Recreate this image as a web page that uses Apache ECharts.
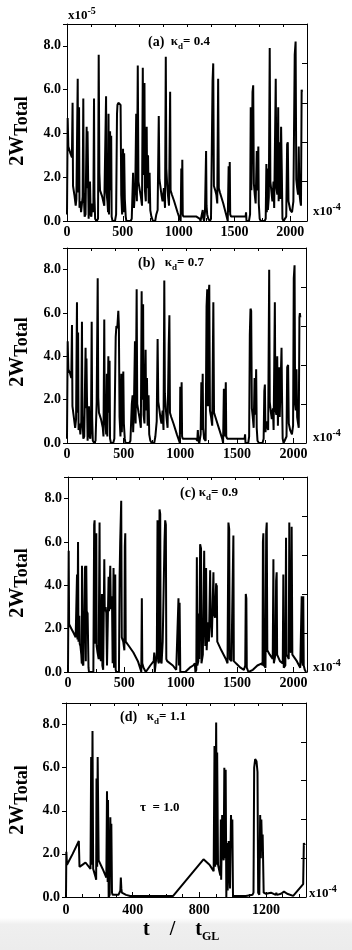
<!DOCTYPE html>
<html>
<head>
<meta charset="utf-8">
<title>2W_Total vs t/t_GL</title>
<script src="https://cdn.jsdelivr.net/npm/echarts@6/dist/echarts.min.js"></script>
<style>
  html, body { margin: 0; padding: 0; background: #fff; }
  #chart { width: 352px; height: 950px; }
</style>
</head>
<body>
<div id="chart"></div>
<script>
// values: [t / t_GL, 2W_Total in units of 1e-5]
const pulseA = [
  [0,0.3],[6,4.7],[12,3.4],[30,3.1],[44,2.9],[50,5.4],[54,1.6],[66,1.2],[78,0.7],[84,1.0],
  [96,6.5],[100,1.3],[108,5.2],[112,0.6],[120,0.9],[126,0.4],[140,1.1],[146,5.6],[150,1.3],[158,0.2],
  [166,0.3],[176,4.3],[180,1.5],[184,4.1],[188,2.5],[194,0.1],[200,0.9],[206,1.8],[212,0.3],[218,0.2],
  [226,0.8],[236,0.4],[242,5.6],[246,1.1],[252,0.1],[266,0.0],[278,0.1],[284,7.6],[290,2.2],[296,1.4],
  [316,1.1],[334,0.7],[350,5.7],[354,1.3],[362,0.9],[368,0.4],[372,4.9],[376,0.3],[386,4.1],[390,1.4],
  [396,3.9],[400,0.2],[408,0.0],[430,0.0],[440,0.3],[448,4.9],[452,5.3],[460,5.4],[470,5.4],[480,5.3],
  [486,1.2],[494,0.3],[502,3.3],[506,0.4],[512,3.1],[518,1.0],[526,0.2],[532,0.0],[570,0.0],[580,0.1],
  [592,2.2],[596,1.3],[600,0.6],[612,1.6],[620,4.9],[626,0.9],[634,7.1],[640,1.8],[652,1.4],[662,1.1],
  [672,0.7],[679,7.0],[684,2.1],[694,6.3],[698,1.4],[706,0.9],[714,4.3],[718,1.5],[726,3.0],[732,0.8],
  [740,2.2],[746,0.5],[756,0.2],[770,0.0],[790,0.0],[800,0.3],[812,0.5],[822,4.8],[828,1.9],[836,1.6],
  [846,1.2],[856,0.9],[868,1.5],[878,0.6],[885,7.5],[890,2.4],[898,1.6],[906,1.1],[914,0.7],[924,5.9],
  [928,1.4],[940,1.2],[960,0.9],[990,0.4],[1010,0.1],[1018,0.0],[1024,2.4],[1028,0.5],[1033,2.8],[1037,0.3],
  [1042,0.2],[1080,0.2],[1120,0.2],[1160,0.2],[1190,0.1],[1196,0.0],[1210,0.0],[1216,0.5],[1222,0.1],[1228,0.0],
  [1236,0.4],[1246,3.2],[1250,0.7],[1256,0.3],[1266,0.1],[1280,0.0],[1290,0.1],[1304,6.4],[1310,7.2],[1316,1.6],
  [1328,1.4],[1338,1.2],[1346,0.8],[1354,6.5],[1360,1.5],[1370,1.3],[1400,0.8],[1430,0.2],[1440,0.0],[1448,2.5],
  [1452,0.4],[1458,2.7],[1462,0.3],[1470,0.2],[1520,0.2],[1560,0.2],[1600,0.2],[1604,0.4],[1608,0.0],[1630,0.0],
  [1640,0.3],[1646,5.2],[1652,1.4],[1662,5.9],[1668,6.2],[1674,1.7],[1682,1.2],[1690,0.8],[1700,3.2],[1706,1.4],
  [1714,3.4],[1718,0.8],[1726,0.1],[1736,0.0],[1770,0.0],[1780,0.1],[1786,2.6],[1790,0.4],[1794,2.4],[1800,0.5],
  [1808,1.1],[1816,7.9],[1822,1.8],[1830,1.4],[1840,0.9],[1850,1.8],[1856,0.6],[1870,6.5],[1876,1.5],[1884,1.2],
  [1892,5.2],[1896,0.9],[1904,3.6],[1910,1.0],[1918,4.3],[1924,2.4],[1930,0.1],[1940,0.0],[1956,0.0],[1964,0.2],
  [1972,3.5],[1978,3.6],[1984,0.9],[2000,0.5],[2016,0.4],[2028,0.9],[2040,7.6],[2048,8.2],[2054,1.9],[2062,1.5],
  [2070,1.2],[2076,3.4],[2082,1.3],[2090,0.9],[2096,0.7],[2102,6.0],[2106,5.9]
];

const pulseB = [
  [0,0.2],[6,4.7],[12,3.4],[28,3.2],[38,3.0],[44,5.45],[48,1.7],[60,1.2],[72,0.7],[80,1.1],
  [88,6.5],[92,1.4],[98,5.1],[102,0.6],[110,0.9],[118,0.4],[126,1.0],[132,5.6],[136,1.3],[144,0.2],
  [152,0.3],[164,4.4],[168,1.6],[172,3.9],[176,2.2],[182,0.1],[188,0.9],[194,1.7],[200,0.3],[206,0.2],
  [212,0.8],[218,5.6],[222,1.2],[228,0.1],[240,0.0],[252,0.1],[262,1.9],[271,7.6],[276,2.1],[282,1.4],
  [300,1.1],[316,0.7],[322,0.3],[329,5.7],[333,1.3],[340,0.9],[346,0.4],[352,3.2],[356,0.3],[365,4.0],
  [370,1.4],[376,3.8],[380,0.2],[388,0.0],[408,0.0],[418,0.2],[430,4.9],[436,5.4],[444,5.3],[453,6.1],
  [458,5.4],[464,1.2],[472,0.3],[480,3.2],[484,0.5],[497,3.3],[502,0.9],[510,0.2],[516,0.0],[550,0.0],
  [560,0.1],[572,1.8],[579,2.2],[584,0.5],[590,1.4],[600,4.7],[606,0.9],[615,7.1],[620,1.8],[632,1.4],
  [642,1.1],[652,0.7],[659,7.0],[664,2.0],[672,6.4],[676,1.3],[684,0.9],[694,4.3],[698,1.5],[706,3.0],
  [712,0.8],[720,2.2],[726,0.4],[736,0.1],[748,0.0],[770,0.0],[780,0.3],[792,1.0],[800,4.8],[806,1.9],
  [814,1.6],[824,1.2],[834,0.9],[844,1.5],[852,0.6],[859,7.5],[864,2.3],[872,1.6],[880,1.1],[888,0.7],
  [898,4.5],[904,5.9],[909,1.4],[920,1.2],[940,0.9],[970,0.4],[990,0.1],[996,0.0],[1000,2.6],[1004,0.4],
  [1012,2.8],[1016,0.3],[1022,0.2],[1060,0.2],[1100,0.2],[1140,0.2],[1150,0.1],[1155,0.6],[1160,0.1],[1168,0.0],
  [1180,0.4],[1186,2.8],[1190,0.6],[1198,3.2],[1202,0.7],[1210,0.2],[1224,0.1],[1232,6.3],[1238,7.1],[1244,1.7],
  [1250,6.8],[1256,7.3],[1262,1.5],[1272,1.2],[1282,0.8],[1292,6.5],[1298,1.4],[1310,1.2],[1340,0.7],[1370,0.2],
  [1378,0.0],[1385,2.5],[1390,0.3],[1402,2.8],[1406,0.3],[1414,0.2],[1460,0.2],[1500,0.2],[1540,0.2],[1568,0.2],
  [1572,0.4],[1576,0.0],[1600,0.0],[1608,0.3],[1614,5.0],[1620,6.2],[1626,6.1],[1632,1.6],[1640,1.2],[1648,0.7],
  [1656,3.0],[1662,1.3],[1670,3.4],[1675,0.7],[1682,0.1],[1694,0.0],[1726,0.0],[1736,0.2],[1742,2.4],[1747,2.7],
  [1752,0.5],[1760,1.0],[1776,0.6],[1785,8.0],[1790,1.9],[1798,1.5],[1808,1.1],[1818,1.6],[1824,0.6],[1835,6.5],
  [1840,1.6],[1848,1.3],[1856,4.0],[1862,0.8],[1872,3.5],[1878,1.2],[1894,4.4],[1898,2.3],[1904,0.2],[1912,0.0],
  [1928,0.0],[1938,0.3],[1944,3.5],[1952,3.6],[1958,0.9],[1970,0.6],[1986,0.4],[1996,0.8],[2002,7.6],[2009,8.2],
  [2014,1.8],[2020,1.5],[2026,3.4],[2032,1.2],[2040,0.9],[2046,0.7],[2052,5.8],[2056,6.0],[2060,5.8]
];

const pulseC = [
  [0,0.0],[4,0.0],[6,5.6],[10,2.2],[30,2.0],[50,1.8],[68,1.6],[80,4.5],[84,1.5],[89,6.0],
  [93,1.4],[100,2.6],[104,1.3],[110,1.2],[118,0.8],[122,0.4],[124,4.9],[128,0.4],[136,0.3],[150,4.8],
  [154,4.9],[158,0.5],[162,4.9],[166,2.8],[174,2.7],[182,0.2],[186,0.0],[225,0.0],[232,6.8],[236,7.0],
  [240,1.3],[251,6.4],[254,1.2],[262,0.9],[272,0.6],[280,6.9],[284,0.8],[292,0.5],[301,3.6],[305,0.3],
  [312,0.1],[322,5.2],[326,2.8],[334,3.0],[340,2.7],[346,0.3],[360,4.4],[364,2.8],[375,4.9],[380,2.9],
  [390,3.5],[396,0.4],[404,4.8],[408,0.2],[419,4.5],[423,0.1],[428,0.0],[452,0.0],[458,4.5],[463,6.0],
  [472,7.9],[477,1.6],[490,1.4],[500,1.0],[504,5.8],[508,6.4],[512,1.4],[540,1.2],[580,0.9],[620,0.5],
  [645,0.1],[650,0.0],[655,3.4],[659,0.4],[670,0.2],[690,0.0],[730,0.3],[760,0.5],[765,0.9],[770,0.0],
  [784,0.0],[788,0.9],[794,7.0],[800,0.5],[806,0.4],[812,7.5],[818,7.3],[822,0.5],[830,0.4],[840,1.4],
  [856,6.0],[862,7.0],[868,6.8],[872,0.6],[880,0.5],[930,0.3],[960,0.1],[974,0.1],[980,3.4],[984,0.3],
  [990,3.2],[996,0.0],[1040,0.0],[1080,0.2],[1110,0.3],[1125,0.4],[1130,0.0],[1138,0.1],[1143,5.3],[1147,0.3],
  [1156,0.5],[1160,2.7],[1164,0.6],[1172,5.9],[1180,5.7],[1184,0.4],[1196,0.8],[1208,5.6],[1212,2.5],[1218,1.2],
  [1225,4.8],[1230,1.0],[1240,2.3],[1250,1.4],[1261,4.7],[1265,2.5],[1276,1.6],[1290,4.6],[1294,2.7],[1304,2.5],
  [1314,4.1],[1317,2.5],[1320,4.0],[1324,1.4],[1360,1.0],[1400,0.6],[1415,0.4],[1423,6.9],[1430,6.6],[1434,0.6],
  [1450,0.5],[1460,0.5],[1467,6.3],[1471,0.5],[1490,0.4],[1530,0.2],[1560,0.1],[1572,0.3],[1577,3.6],[1582,3.4],
  [1586,0.2],[1600,0.0],[1640,0.1],[1680,0.3],[1720,0.4],[1726,0.3],[1729,6.0],[1733,6.4],[1738,0.3],[1752,0.2],
  [1758,6.5],[1763,6.9],[1768,1.0],[1790,0.8],[1816,0.6],[1822,5.2],[1826,0.4],[1840,0.8],[1846,4.2],[1851,4.6],
  [1855,0.8],[1880,0.5],[1905,0.4],[1910,4.5],[1914,0.2],[1928,0.3],[1934,6.2],[1938,0.8],[1950,0.7],[1958,0.6],
  [1963,6.9],[1968,1.0],[1978,0.9],[1984,6.7],[1990,0.8],[2030,0.5],[2060,0.2],[2068,0.2],[2073,3.5],[2077,0.5],
  [2083,0.3],[2087,3.5],[2091,0.3],[2100,0.1],[2112,0.0]
];

const pulseD = [
  [0,0.0],[2,2.1],[6,1.5],[40,2.0],[77,2.6],[81,1.4],[100,1.5],[117,1.6],[147,1.3],[151,6.5],
  [155,1.5],[159,7.7],[163,1.3],[167,1.2],[178,0.9],[181,0.8],[183,5.5],[187,1.4],[190,6.5],[196,1.7],
  [220,1.3],[242,0.9],[246,4.9],[250,0.7],[252,4.5],[256,0.0],[262,0.1],[266,3.7],[270,1.0],[272,3.4],
  [276,0.2],[280,0.1],[315,0.1],[326,0.3],[329,0.9],[332,0.4],[335,0.2],[360,0.1],[385,0.05],[500,0.05],
  [643,0.05],[825,1.75],[861,1.5],[886,1.2],[891,7.0],[895,1.4],[901,8.1],[905,1.5],[907,6.7],[912,1.5],
  [920,1.2],[926,1.0],[929,3.6],[931,0.8],[937,3.8],[940,2.1],[946,1.7],[950,6.0],[954,1.8],[958,5.9],
  [962,0.0],[966,2.5],[970,0.3],[976,2.6],[984,0.4],[990,3.8],[994,2.8],[998,3.6],[1002,0.05],[1079,0.05],
  [1119,0.1],[1125,0.2],[1129,6.0],[1135,6.4],[1143,6.3],[1149,5.8],[1153,0.2],[1160,0.1],[1165,3.8],[1169,1.8],
  [1172,3.6],[1176,2.3],[1180,2.9],[1186,0.2],[1200,0.15],[1230,0.2],[1258,0.1],[1262,0.2],[1266,0.1],[1290,0.15],
  [1308,0.25],[1327,0.15],[1337,0.2],[1363,0.05],[1423,0.6],[1427,2.5],[1433,2.4]
];

const panelTags = ['(a)', '(b)', '(c)', '(d)'];
const kappaValues = ['0.4', '0.7', '0.9', '1.1'];
const xMax = [2150, 2110, 2120, 1440];
const xStep = [500, 500, 500, 400];

const FONT = "'Liberation Serif', 'Times New Roman', serif";
const pulses = [pulseA, pulseB, pulseC, pulseD];

// plot boxes, measured on the reference
const boxes = [
  { left: 67, top: 24, width: 240, height: 197 },
  { left: 67, top: 248, width: 239, height: 195 },
  { left: 68, top: 477, width: 239, height: 195 },
  { left: 66, top: 703, width: 240, height: 194 }
];

const chart = echarts.init(document.getElementById('chart'), null, { renderer: 'canvas' });

const black = { color: '#000', width: 1 };
const grids = [], xAxes = [], yAxes = [], series = [];

boxes.forEach((b, i) => {
  const step = xStep[i];
  grids.push({ left: b.left, top: b.top, width: b.width, height: b.height });

  // bottom axis with labels
  xAxes.push({
    gridIndex: i, type: 'value', min: 0, max: xMax[i], interval: step,
    axisLine: { onZero: false, lineStyle: black },
    axisTick: { inside: true, length: 5, lineStyle: black },
    minorTick: { show: true, splitNumber: i === 3 ? 4 : 2, length: 3, lineStyle: black },
    splitLine: { show: false },
    axisLabel: {
      margin: i === 3 ? 6 : 4, color: '#000', fontFamily: FONT, fontWeight: 'bold', fontSize: 14,
      formatter: v => (v % step === 0 ? String(v) : '')
    }
  });
  // top frame, ten even divisions
  xAxes.push({
    gridIndex: i, type: 'value', position: 'top', min: 0, max: xMax[i], interval: xMax[i] / 10,
    axisLine: { onZero: false, lineStyle: black },
    axisTick: { inside: true, length: 3, lineStyle: black },
    axisLabel: { show: false }, splitLine: { show: false }
  });
  // left axis with labels
  yAxes.push({
    gridIndex: i, type: 'value', min: 0, max: 9, interval: 2,
    axisLine: { onZero: false, lineStyle: black },
    axisTick: { inside: false, length: 4, lineStyle: black },
    splitLine: { show: false },
    axisLabel: {
      margin: 6, color: '#000', fontFamily: FONT, fontWeight: 'bold', fontSize: 14,
      formatter: v => (v % 2 === 0 ? v.toFixed(1) : '')
    }
  });
  // right frame
  yAxes.push({
    gridIndex: i, type: 'value', position: 'right', min: 0, max: 9, interval: 1.8,
    axisLine: { onZero: false, lineStyle: black },
    axisTick: { inside: true, length: 5, lineStyle: black },
    axisLabel: { show: false }, splitLine: { show: false }
  });

  series.push({
    type: 'line', xAxisIndex: 2 * i, yAxisIndex: 2 * i,
    data: pulses[i], showSymbol: false, symbol: 'none', silent: true,
    lineStyle: { color: '#000', width: 2 }
  });
});

// rich text styles for the annotations
const rich = {
  tag: { fontFamily: FONT, fontWeight: 'bold', fontSize: 14, fill: '#000' },
  k: { fontFamily: FONT, fontWeight: 'bold', fontSize: 13, fill: '#000' },
  ks: { fontFamily: FONT, fontWeight: 'bold', fontSize: 9, fill: '#000', padding: [9, 0, 0, 0] },
  x10: { fontFamily: FONT, fontWeight: 'bold', fontSize: 13, fill: '#000' },
  sup: { fontFamily: FONT, fontWeight: 'bold', fontSize: 10, fill: '#000', padding: [0, 0, 10, 0] },
  w: { fontFamily: FONT, fontWeight: 'bold', fontSize: 20, fill: '#000' },
  wsub: { fontFamily: FONT, fontWeight: 'bold', fontSize: 18, fill: '#000', padding: [8, 0, 0, 0] },
  t: { fontFamily: FONT, fontWeight: 'bold', fontSize: 20, fill: '#000' },
  tsub: { fontFamily: FONT, fontWeight: 'bold', fontSize: 12, fill: '#000', padding: [13, 0, 0, 0] }
};

function text(x, y, str, opts) {
  return Object.assign({
    type: 'text', x: x, y: y, z: 100,
    style: { text: str, rich: rich, align: 'left', verticalAlign: 'middle' }
  }, opts || {});
}

const titlePos = [[148, 42], [138, 263], [180, 493], [120, 717]];
const titleGap = ['  ', '   ', ' ', '   '];
const sciPos = [[313, 212], [313, 438], [313, 668], [309, 894]];
const nameY = [131, 352, 583, 800];

const graphics = [{
  type: 'rect', z: 0,
  shape: { x: 0, y: 918, width: 352, height: 32 },
  style: {
    fill: new echarts.graphic.LinearGradient(0, 0, 0, 1, [
      { offset: 0, color: '#ffffff' }, { offset: 0.2, color: '#efefef' }, { offset: 1, color: '#ececec' }
    ])
  }
}];

boxes.forEach((b, i) => {
  graphics.push(text(titlePos[i][0], titlePos[i][1],
    '{tag|' + panelTags[i] + '}{k|' + titleGap[i] + 'κ}{ks|d}{k|= ' + kappaValues[i] + '}'));
  graphics.push(text(sciPos[i][0], sciPos[i][1], '{x10|x10}{sup|-4}'));
  graphics.push(text(18, nameY[i], '{w|2W}{wsub|Total}', {
    rotation: Math.PI / 2,
    style: { text: '{w|2W}{wsub|Total}', rich: rich, align: 'center', verticalAlign: 'middle' }
  }));
});

graphics.push(text(68, 16, '{x10|x10}{sup|-5}'));
graphics.push(text(140, 808, '{k|τ  = 1.0}'));
graphics.push(text(143, 930, '{t|t    /    t}{tsub|GL}'));

chart.setOption({
  animation: false,
  backgroundColor: '#fff',
  grid: grids,
  xAxis: xAxes,
  yAxis: yAxes,
  series: series,
  graphic: graphics
});
</script>
</body>
</html>
